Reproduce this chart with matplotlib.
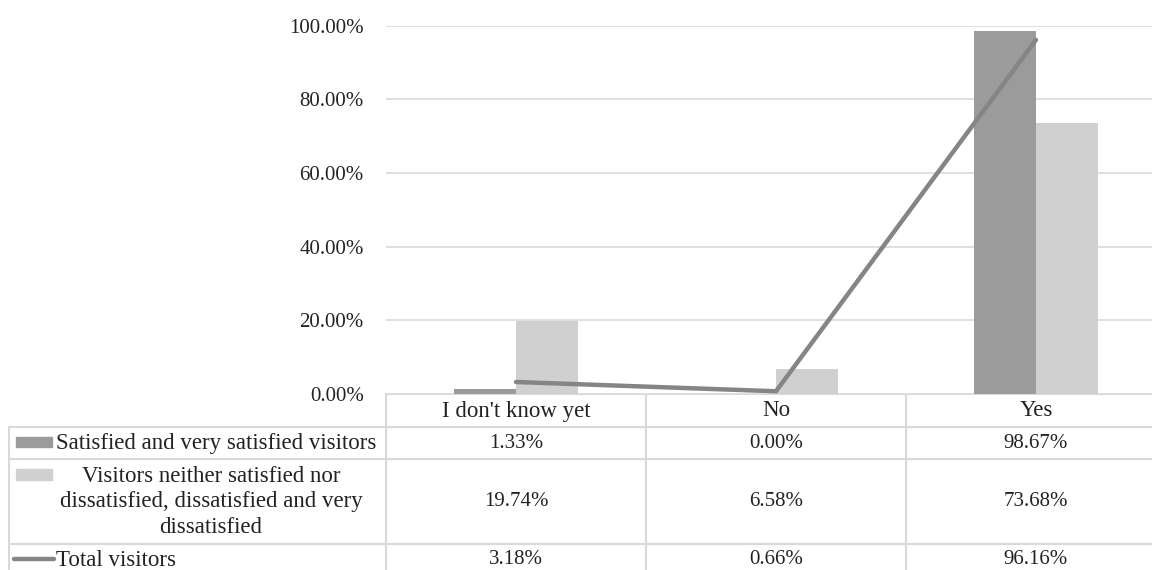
import numpy as np
import matplotlib.pyplot as plt
from matplotlib.patches import Rectangle

plt.rcParams.update({"font.family": "Liberation Serif",
                     "font.size": 15,
                     "text.color": "#222222"})

# survey answers and shares (%)
categories = ["I don't know yet", "No", "Yes"]
satisfied = [1.33, 0.00, 98.67]
not_satisfied = [19.74, 6.58, 73.68]
total = [3.18, 0.66, 96.16]
series_names = ["Satisfied and very satisfied visitors",
                "Visitors neither satisfied nor\ndissatisfied, dissatisfied and very\ndissatisfied",
                "Total visitors"]
yticks = [0, 20, 40, 60, 80, 100]

DARK = "#9b9b9b"
LIGHT = "#d0d0d0"
LINE = "#858585"
GRID = "#d9d9d9"
WORD_SIZE = 16.5

W, H = 1152, 570
fig = plt.figure(figsize=(W / 100, H / 100), dpi=100)

# plot area in pixels (right edge runs past the figure)
px_left, px_right, px_top, px_bot = 386, 1166, 25.7, 393.7
ax = fig.add_axes([px_left / W, 1 - px_bot / H,
                   (px_right - px_left) / W, (px_bot - px_top) / H])

x = np.arange(len(categories))
bw = 0.238
ax.bar(x - bw / 2, satisfied, bw, color=DARK, zorder=2)
ax.bar(x + bw / 2, not_satisfied, bw, color=LIGHT, zorder=2)
ax.plot(x, total, color=LINE, lw=3.2, solid_capstyle="round", zorder=3)

ax.set_xlim(-0.5, len(categories) - 0.5)
ax.set_ylim(0, 100)
ax.set_yticks(yticks)
ax.set_yticklabels([f"{v:.2f}%" for v in yticks], color="#222222")
ax.tick_params(axis="y", length=0, pad=16)
ax.tick_params(axis="x", length=0, labelbottom=False)
ax.grid(axis="y", color=GRID, lw=1.2, zorder=0)
for s in ax.spines.values():
    s.set_visible(False)

# data table underneath, drawn in pixel coordinates
tab = fig.add_axes([0, 0, 1, 1], zorder=-1)
tab.set_xlim(0, W)
tab.set_ylim(H, 0)
tab.axis("off")

col_edges = [386, 646, 906, 1166]
centers = [(a + b) / 2 for a, b in zip(col_edges[:-1], col_edges[1:])]
row_edges = [393.7, 427, 459, 544, 580]
lc = dict(color=GRID, lw=1.5)

tab.plot([386, W], [row_edges[0]] * 2, **lc)
for y in row_edges[1:4]:
    tab.plot([9, W], [y, y], **lc)
tab.plot([9, 9], [row_edges[1], H], **lc)
for xe in col_edges[:3]:
    tab.plot([xe, xe], [row_edges[0], H], **lc)

# header row
for cx, name in zip(centers, categories):
    tab.text(cx, 411, name, ha="center", va="center", fontsize=WORD_SIZE)

# row labels with legend keys
tab.add_patch(Rectangle((16, 437), 36, 10, color=DARK))
tab.text(56, 443, series_names[0], ha="left", va="center", fontsize=WORD_SIZE)
tab.add_patch(Rectangle((16, 469), 36, 11, color=LIGHT))
tab.text(211, 502, series_names[1], ha="center", va="center",
         multialignment="center", linespacing=1.3, fontsize=WORD_SIZE)
tab.plot([14, 54], [559, 559], color=LINE, lw=3.2, solid_capstyle="round")
tab.text(56, 560, series_names[2], ha="left", va="center", fontsize=WORD_SIZE)

row_y = [443, 502, 560]
for ry, vals in zip(row_y, [satisfied, not_satisfied, total]):
    for cx, v in zip(centers, vals):
        tab.text(cx, ry, f"{v:.2f}%", ha="center", va="center")

fig.savefig("out.png", dpi=100)
